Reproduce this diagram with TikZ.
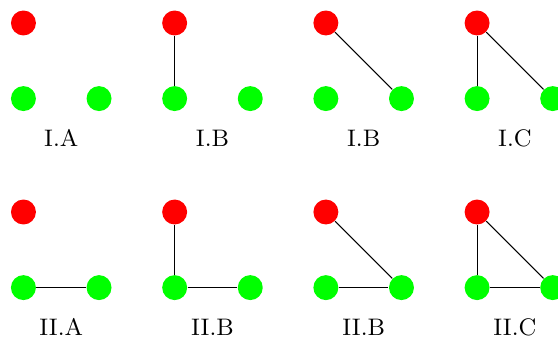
\documentclass[tikz,border=0pt]{standalone}
\usepackage{amsmath, tikz}

\begin{document}
\begin{tikzpicture}[vert/.style={circle, inner sep=0pt, minimum size=3.3mm},
                    lab/.style={anchor=base, font=\small}]
  \useasboundingbox (0,0) rectangle (7.38,4.444);
  % one small graph per column, rows I (top) and II (bottom)
  \foreach \row/\y in {I/3.14, II/0.64} {
    \foreach \k/\x/\name in {1/0.31/A, 2/2.31/B, 3/4.31/B, 4/6.31/C} {
      \node[vert, fill=red]   (r\row\k) at (\x,\y+1) {};
      \node[vert, fill=green] (g\row\k) at (\x,\y) {};
      \node[vert, fill=green] (h\row\k) at (\x+1,\y) {};
      \node[lab] (l\row\k) at (\x+0.5,\y-0.63) {\row.\name};
    }
  }
  % edges from the red vertex
  \foreach \row in {I, II} {
    \draw (r\row2) -- (g\row2);
    \draw (r\row3) -- (h\row3);
    \draw (r\row4) -- (g\row4);
    \draw (r\row4) -- (h\row4);
  }
  % bottom edge in row II
  \foreach \k in {1, 2, 3, 4}
    \draw (gII\k) -- (hII\k);
\end{tikzpicture}
\end{document}
